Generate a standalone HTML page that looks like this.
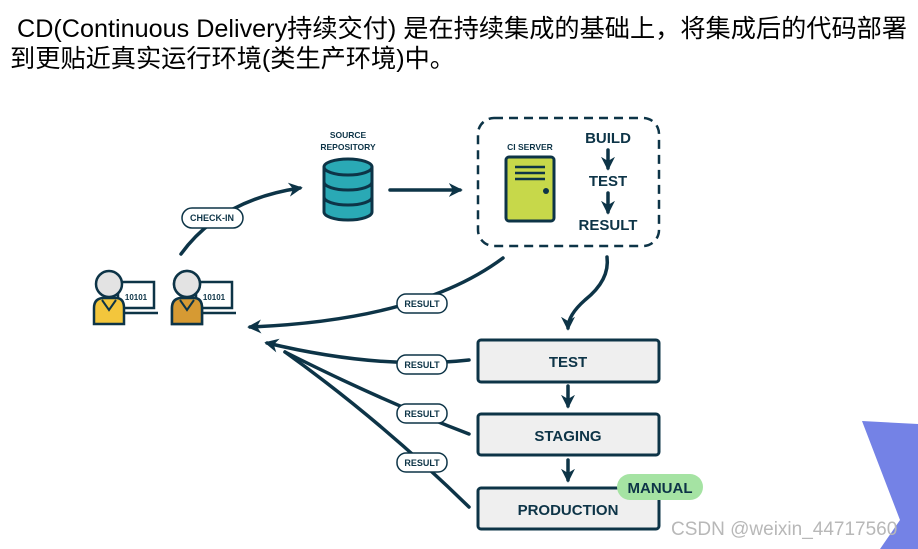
<!DOCTYPE html>
<html><head><meta charset="utf-8"><style>
body{margin:0;width:918px;height:549px;background:#fff;overflow:hidden;position:relative;font-family:"Liberation Sans","Noto Sans CJK SC",sans-serif}
.t{position:absolute;left:10px;font-size:25.2px;color:#000;line-height:28px;white-space:nowrap}
</style></head><body>
<div class="t" style="top:15px">&nbsp;CD(Continuous Delivery持续交付) 是在持续集成的基础上，将集成后的代码部署</div>
<div class="t" style="top:45px">到更贴近真实运行环境(类生产环境)中。</div>
<svg width="918" height="549" style="position:absolute;left:0;top:0" font-family="Liberation Sans, sans-serif" font-weight="bold">
<defs>
<marker id="b" viewBox="0 0 10 10" markerWidth="14" markerHeight="14" refX="8" refY="5" orient="auto" markerUnits="userSpaceOnUse"><path d="M0,0 L10,5 L0,10 L3,5z" fill="#0d3447"/></marker></defs>
<polygon points="862,421 918,424 918,549 880,549 900,520" fill="#7482e6"/>
<g stroke="#0d3447" stroke-width="3.5" fill="none" stroke-linecap="round">
<path d="M181,254 Q220,200 300,188" marker-end="url(#b)"/>
<path d="M390,190 L460,190" marker-end="url(#b)"/>
<path d="M503,258 Q420,320 250,327" marker-end="url(#b)"/>
<path d="M607,257 Q610,280 585,300 Q568,315 568,328" marker-end="url(#b)"/>
<path d="M469,360 Q380,370 267,343" marker-end="url(#b)"/>
<path d="M469,434 Q380,400 285,352"/>
<path d="M469,507 Q380,420 285,352"/>
<path d="M568,386 L568,406" marker-end="url(#b)"/>
<path d="M568,460 L568,480" marker-end="url(#b)"/>
<path d="M608,150 L608,168" marker-end="url(#b)"/>
<path d="M608,193 L608,212" marker-end="url(#b)"/>
</g>
<rect x="478" y="118" width="181" height="128" rx="16" fill="none" stroke="#0d3447" stroke-width="2.5" stroke-dasharray="9,6"/>
<text x="530" y="150" font-size="8.5" fill="#0d3447" text-anchor="middle">CI SERVER</text>
<rect x="506" y="157" width="48" height="64" rx="3" fill="#c7d84a" stroke="#0d3447" stroke-width="3"/>
<g stroke="#0d3447" stroke-width="2.5"><line x1="515" y1="167" x2="545" y2="167"/><line x1="515" y1="173" x2="545" y2="173"/><line x1="515" y1="179" x2="545" y2="179"/></g>
<circle cx="546" cy="191" r="3" fill="#0d3447"/>
<g font-size="15" fill="#0d3447" text-anchor="middle"><text x="608" y="143">BUILD</text><text x="608" y="186">TEST</text><text x="608" y="230">RESULT</text></g>
<text x="348" y="138" font-size="8.5" fill="#0d3447" text-anchor="middle">SOURCE</text>
<text x="348" y="150" font-size="8.5" fill="#0d3447" text-anchor="middle">REPOSITORY</text>
<g stroke="#0d3447" stroke-width="3" fill="#2aa9b5">
<path d="M324,167 L324,212 A24,8 0 0 0 372,212 L372,167"/>
<ellipse cx="348" cy="167" rx="24" ry="8"/>
<path d="M324,182 A24,8 0 0 0 372,182 M324,197 A24,8 0 0 0 372,197" fill="none"/>
</g>
<g font-size="9" fill="#0d3447" text-anchor="middle">
<rect x="182" y="208" width="61" height="20" rx="10" fill="#fff" stroke="#0d3447" stroke-width="1.5"/><text x="212" y="221">CHECK-IN</text>
<rect x="397" y="294" width="50" height="19" rx="9" fill="#fff" stroke="#0d3447" stroke-width="1.5"/><text x="422" y="307">RESULT</text>
<rect x="397" y="355" width="50" height="19" rx="9" fill="#fff" stroke="#0d3447" stroke-width="1.5"/><text x="422" y="368">RESULT</text>
<rect x="397" y="404" width="50" height="19" rx="9" fill="#fff" stroke="#0d3447" stroke-width="1.5"/><text x="422" y="417">RESULT</text>
<rect x="397" y="453" width="50" height="19" rx="9" fill="#fff" stroke="#0d3447" stroke-width="1.5"/><text x="422" y="466">RESULT</text>
</g>
<g stroke="#0d3447" stroke-width="3" fill="#efefef">
<rect x="478" y="340" width="181" height="42" rx="3"/>
<rect x="478" y="414" width="181" height="41" rx="3"/>
<rect x="478" y="488" width="181" height="41" rx="3"/>
</g>
<rect x="617" y="474" width="86" height="26" rx="13" fill="#a5e3a3"/>
<g font-size="15" fill="#0d3447" text-anchor="middle">
<text x="568" y="367">TEST</text><text x="568" y="441">STAGING</text><text x="568" y="515">PRODUCTION</text><text x="660" y="493">MANUAL</text></g>
<g id="p">
<rect x="118" y="282" width="36" height="26" fill="#fff" stroke="#0d3447" stroke-width="2.5"/>
<line x1="112" y1="313" x2="158" y2="313" stroke="#0d3447" stroke-width="2.5"/>
<text x="136" y="300" font-size="8" fill="#0d3447" text-anchor="middle">10101</text>
<path d="M94,324 L94,308 Q94,298 104,298 L116,298 Q124,298 124,308 L124,324z" fill="#f3c63c" stroke="#0d3447" stroke-width="2.5"/>
<path d="M102,300 L109,310 L116,300" fill="none" stroke="#0d3447" stroke-width="2"/>
<circle cx="109" cy="284" r="13" fill="#e3e3e3" stroke="#0d3447" stroke-width="2.5"/>
</g>
<use href="#p" x="78"/>
<path d="M172,324 L172,308 Q172,298 182,298 L194,298 Q202,298 202,308 L202,324z" fill="#d69a33" stroke="#0d3447" stroke-width="2.5"/>
<path d="M180,300 L187,310 L194,300" fill="none" stroke="#0d3447" stroke-width="2"/>
<circle cx="187" cy="284" r="13" fill="#e3e3e3" stroke="#0d3447" stroke-width="2.5"/>
<text x="671" y="535" font-size="19" font-weight="normal" fill="#b8b8b8">CSDN @weixin_44717560</text>
</svg>
</body></html>
